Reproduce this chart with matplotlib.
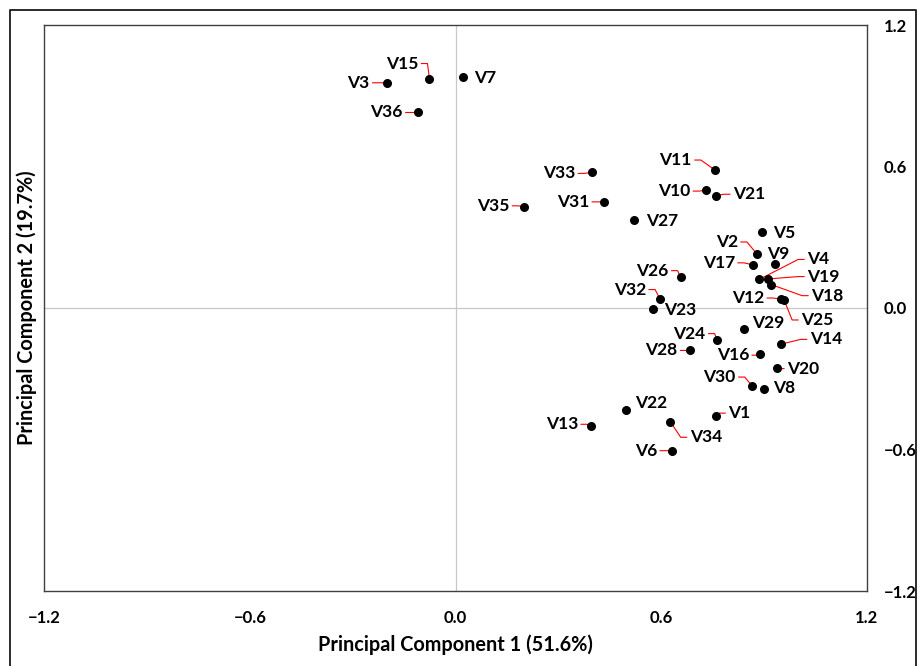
import matplotlib.pyplot as plt
from matplotlib.lines import Line2D

plt.rcParams['font.family'] = ['Lato', 'DejaVu Sans']
plt.rcParams['font.weight'] = 'bold'

# loadings
names = ['V1', 'V2', 'V3', 'V4', 'V5', 'V6', 'V7', 'V8', 'V9', 'V10', 'V11', 'V12',
         'V13', 'V14', 'V15', 'V16', 'V17', 'V18', 'V19', 'V20', 'V21', 'V22', 'V23', 'V24',
         'V25', 'V26', 'V27', 'V28', 'V29', 'V30', 'V31', 'V32', 'V33', 'V34', 'V35', 'V36']
pc1 = [0.759, 0.881, -0.201, 0.886, 0.893, 0.632, 0.021, 0.901, 0.933, 0.732, 0.757, 0.949,
       0.394, 0.951, -0.076, 0.888, 0.868, 0.922, 0.911, 0.938, 0.761, 0.499, 0.575, 0.764,
       0.959, 0.657, 0.520, 0.683, 0.842, 0.866, 0.434, 0.597, 0.399, 0.627, 0.201, -0.110]
pc2 = [-0.456, 0.227, 0.955, 0.121, 0.323, -0.605, 0.980, -0.344, 0.187, 0.500, 0.585, 0.038,
       -0.499, -0.153, 0.973, -0.197, 0.183, 0.099, 0.123, -0.254, 0.476, -0.432, -0.005, -0.137,
       0.034, 0.130, 0.373, -0.180, -0.090, -0.331, 0.450, 0.038, 0.575, -0.482, 0.429, 0.829]

ticks = [-1.2, -0.6, 0.0, 0.6, 1.2]
tick_labels = ['\u22121.2', '\u22120.6', '0.0', '0.6', '1.2']
xlabel = 'Principal Component 1 (51.6%)'
ylabel = 'Principal Component 2 (19.7%)'

# label placement: pixel offset (right, down) of the label edge from its dot
label_pos = {
    'V1': (12.6, -2.4), 'V2': (-19.5, -12.5), 'V3': (-17, 0), 'V4': (48, -20),
    'V5': (12, 1), 'V6': (-15, 0), 'V7': (11, 1), 'V8': (8.4, -1),
    'V9': (-7.8, -10), 'V10': (-16, 1), 'V11': (-23, -10), 'V12': (-16.5, -1),
    'V13': (-12.4, -1.4), 'V14': (28.3, -4.7), 'V15': (-11, -15), 'V16': (-10.7, 0.7),
    'V17': (-18, -2), 'V18': (39.6, 11), 'V19': (39.4, -2.4), 'V20': (10, 0.7),
    'V21': (16.5, -1.5), 'V22': (8.3, -7.3), 'V23': (12, 0.5), 'V24': (-11.7, -6.7),
    'V25': (17, 20), 'V26': (-12, -6.7), 'V27': (12, 1), 'V28': (-12, 0),
    'V29': (8.4, -6.7), 'V30': (-16.5, -9), 'V31': (-15, 0), 'V32': (-14, -9.5),
    'V33': (-17, 1), 'V34': (19.3, 15.6), 'V35': (-15, -1), 'V36': (-15, 0),
}
right_side = {'V1', 'V4', 'V5', 'V7', 'V8', 'V9', 'V14', 'V18', 'V19', 'V20', 'V21',
              'V22', 'V23', 'V25', 'V27', 'V29', 'V34'}
no_leader = {'V5', 'V7', 'V8', 'V9', 'V22', 'V23', 'V27', 'V29'}

fig = plt.figure(figsize=(9.17, 6.66), dpi=100)
ax = fig.add_axes([44.3 / 917, 75 / 666, 822.4 / 917, 566 / 666])

ax.axhline(0, color='#c8c8c8', lw=0.9, zorder=1)
ax.axvline(0, color='#c8c8c8', lw=0.9, zorder=1)
ax.scatter(pc1, pc2, s=30, color='black', zorder=5)

for name, x, y in zip(names, pc1, pc2):
    dx, dy = label_pos[name]
    if name in right_side:
        ha, rel, ang = 'left', (0, 0.5), 180
    else:
        ha, rel, ang = 'right', (1, 0.5), 0
    arrow = None
    if name not in no_leader:
        arrow = dict(arrowstyle='-', color='#ff0000', lw=0.8, shrinkA=0, shrinkB=0,
                     relpos=rel,
                     connectionstyle='arc,angleA=%d,angleB=0,armA=9,armB=0,rad=0' % ang)
    ax.annotate(name, xy=(x, y), xytext=(dx, -dy), textcoords='offset pixels',
                ha=ha, va='center', fontsize=12.5, fontweight='bold',
                arrowprops=arrow, zorder=4)

ax.set_xlim(-1.2, 1.2)
ax.set_ylim(-1.2, 1.2)
ax.set_xticks(ticks)
ax.set_xticklabels(tick_labels)
ax.set_yticks(ticks)
ax.set_yticklabels(tick_labels)
ax.yaxis.tick_right()
ax.yaxis.set_label_position('left')
ax.tick_params(axis='x', length=0, pad=14, labelsize=12)
ax.tick_params(axis='y', length=0, pad=12, labelsize=12)
for lab in ax.get_xticklabels() + ax.get_yticklabels():
    lab.set_fontweight('bold')
for sp in ax.spines.values():
    sp.set_color('#404040')
    sp.set_linewidth(1.0)

ax.set_xlabel(xlabel, fontsize=14.3, fontweight='bold', labelpad=6)
ax.set_ylabel(ylabel, fontsize=14.3, fontweight='bold', labelpad=5)

# outer chart border (left, top, right)
fig.add_artist(Line2D([9.5 / 917, 9.5 / 917, 916 / 917, 916 / 917],
                      [0, 1 - 9.5 / 666, 1 - 9.5 / 666, 0],
                      transform=fig.transFigure, color='#1a1a1a', lw=1.3))

fig.savefig('out.png', dpi=100)
